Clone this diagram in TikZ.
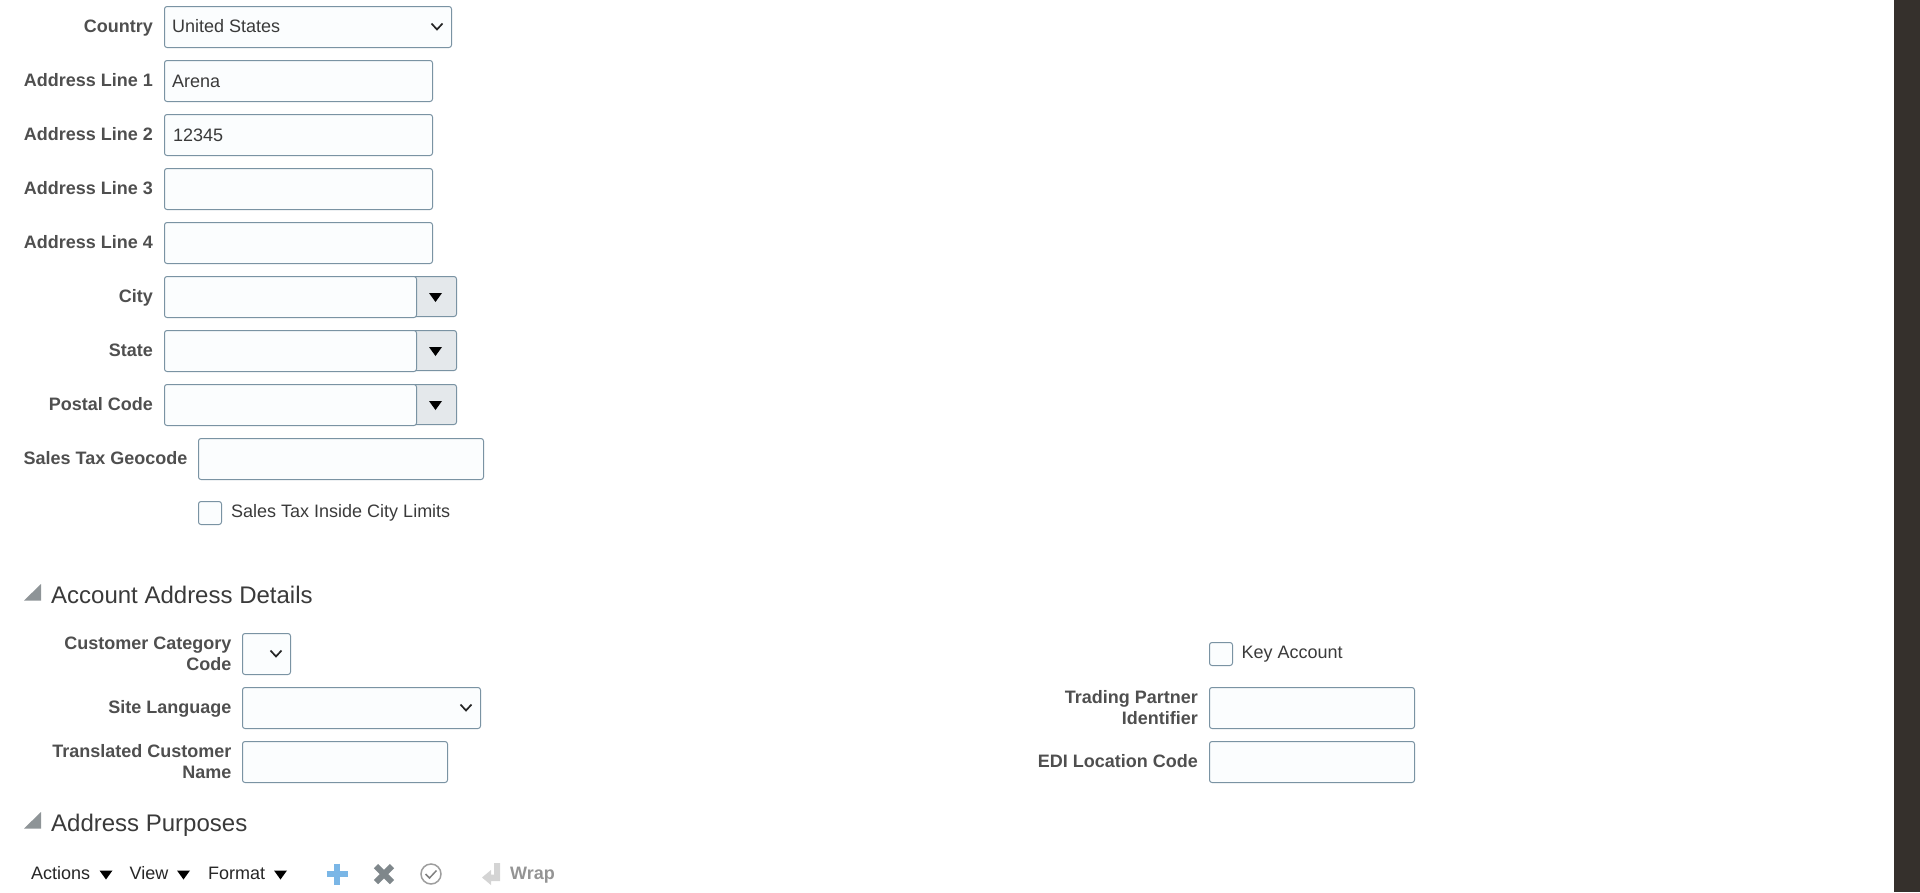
\documentclass[tikz,border=0pt]{standalone}
\usepackage{fontspec}
\setmainfont{Liberation Sans}
\definecolor{fieldline}{HTML}{7A93A3}
\definecolor{fieldfill}{HTML}{FBFDFE}
\definecolor{btnfill}{HTML}{E4E8EB}
\definecolor{labeltext}{HTML}{4F4F4F}
\definecolor{valuetext}{HTML}{3A3A3A}
\definecolor{sidebar}{HTML}{35302C}
\definecolor{sectiongrey}{HTML}{8E9497}
\definecolor{addblue}{HTML}{7AB6E6}
\definecolor{removegrey}{HTML}{7F878B}
\tikzset{
  fieldbox/.style={draw=fieldline,fill=fieldfill,line width=1pt,rounded corners=2.5pt,
    anchor=north west,inner sep=0pt,outer sep=0pt,minimum height=41pt},
  btnbox/.style={fieldbox,fill=btnfill,minimum width=60pt,minimum height=40pt},
  checkbox/.style={fieldbox,minimum width=23pt,minimum height=23pt},
  fieldlabel/.style={anchor=base east,align=right,inner sep=0pt,text=labeltext,
    font=\fontsize{18}{21}\selectfont\bfseries},
  fieldvalue/.style={anchor=base west,inner sep=0pt,text=valuetext,
    font=\fontsize{18}{21}\selectfont},
  sectiontitle/.style={anchor=base west,inner sep=0pt,text=valuetext,
    font=\fontsize{24}{28}\selectfont},
  toolitem/.style={anchor=base west,inner sep=0pt,text=black!85,
    font=\fontsize{18}{21}\selectfont},
  chevron/.pic={\draw[black!85,line width=1.7pt] (-5.5,-3.5) -- (0,2.5) -- (5.5,-3.5);},
  downtri/.pic={\fill[black] (-6.5,-4.5) -- (6.5,-4.5) -- (0,4.5) -- cycle;},
  sectiontri/.pic={\fill[sectiongrey] (0,16.5) -- (17,16.5) -- (17,0) -- cycle;},
}
\begin{document}
\begin{tikzpicture}[x=1pt,y=-1pt]
    \useasboundingbox (0,0) rectangle (1920,892);
    \fill[sidebar] (1894,0) rectangle (1920,892);

    % address block
    \node[fieldlabel] (countrylab) at (153,32) {Country};
    \node[fieldbox,minimum width=287pt] (country) at (164.5,6.5) {};
    \node[fieldvalue] (countryval) at (172,32) {United States};
    \pic at (437,27) {chevron};

    \node[fieldlabel] (line1lab) at (153,86) {Address Line 1};
    \node[fieldbox,minimum width=268pt] (line1) at (164.5,60.5) {};
    \node[fieldvalue] (line1val) at (172,87) {Arena};
    \node[fieldlabel] (line2lab) at (153,140) {Address Line 2};
    \node[fieldbox,minimum width=268pt] (line2) at (164.5,114.5) {};
    \node[fieldvalue] (line2val) at (173,141) {12345};
    \node[fieldlabel] (line3lab) at (153,194) {Address Line 3};
    \node[fieldbox,minimum width=268pt] (line3) at (164.5,168.5) {};
    \node[fieldlabel] (line4lab) at (153,248) {Address Line 4};
    \node[fieldbox,minimum width=268pt] (line4) at (164.5,222.5) {};

    \node[fieldlabel] (citylab) at (153,302) {City};
    \node[btnbox] (citybtn) at (396.5,276.5) {};
    \node[fieldbox,minimum width=252pt] (city) at (164.5,276.5) {};
    \pic at (435.5,297.5) {downtri};
    \node[fieldlabel] (statelab) at (153,356) {State};
    \node[btnbox] (statebtn) at (396.5,330.5) {};
    \node[fieldbox,minimum width=252pt] (state) at (164.5,330.5) {};
    \pic at (435.5,351.5) {downtri};
    \node[fieldlabel] (postallab) at (153,410) {Postal Code};
    \node[btnbox] (postalbtn) at (396.5,384.5) {};
    \node[fieldbox,minimum width=252pt] (postal) at (164.5,384.5) {};
    \pic at (435.5,405.5) {downtri};

    \node[fieldlabel] (geolab) at (187.5,464) {Sales Tax Geocode};
    \node[fieldbox,minimum width=285pt] (geo) at (198.5,438.5) {};
    \node[checkbox] (limits) at (198.5,501.5) {};
    \node[fieldvalue] (limitslab) at (231,517.5) {Sales Tax Inside City Limits};

    % account address details
    \pic at (24,584) {sectiontri};
    \node[sectiontitle] (details) at (51,603) {Account Address Details};
    \node[fieldlabel] (catlab) at (231.5,670) {Customer Category\\Code};
    \node[fieldbox,minimum width=48pt] (cat) at (242.5,633.5) {};
    \pic at (276,654) {chevron};
    \node[fieldlabel] (sitelab) at (231.5,713) {Site Language};
    \node[fieldbox,minimum width=238pt] (site) at (242.5,687.5) {};
    \pic at (466,708) {chevron};
    \node[fieldlabel] (translab) at (231.5,778) {Translated Customer\\Name};
    \node[fieldbox,minimum width=205pt] (trans) at (242.5,741.5) {};

    \node[checkbox] (key) at (1209.5,642.5) {};
    \node[fieldvalue] (keylab) at (1241.5,658.5) {Key Account};
    \node[fieldlabel] (tradelab) at (1198,724) {Trading Partner\\Identifier};
    \node[fieldbox,minimum width=205pt] (trade) at (1209.5,687.5) {};
    \node[fieldlabel] (edilab) at (1198,767) {EDI Location Code};
    \node[fieldbox,minimum width=205pt] (edi) at (1209.5,741.5) {};

    % address purposes
    \pic at (24,812) {sectiontri};
    \node[sectiontitle] (purposes) at (51,831) {Address Purposes};
    \node[toolitem] (actions) at (31,879) {Actions};
    \pic at (106,875) {downtri};
    \node[toolitem] (view) at (129.5,879) {View};
    \pic at (183.5,875) {downtri};
    \node[toolitem] (format) at (208,879) {Format};
    \pic at (280.5,875) {downtri};

    \draw[line width=6pt,color=addblue] (326.5,874) -- (347.5,874) (337,863.5) -- (337,884.5);
    \draw[line width=6pt,color=removegrey] (376,866) -- (392,882) (392,866) -- (376,882);
    \draw[line width=1.5pt,color=black!38] (431,874) circle (10);
    \draw[line width=1.5pt,color=black!50] (425.5,874) -- (429.5,878) -- (436.5,870.5);
    \fill[black!17] (494,863) -- (500,863) -- (500,881) -- (491,881) -- (491,885) -- (482,877.5) -- (491,870) -- (491,874.5) -- (494,874.5) -- cycle;
    \node[fieldlabel,anchor=base west,text=black!42] (wrap) at (510,879) {Wrap};
\end{tikzpicture}
\end{document}
